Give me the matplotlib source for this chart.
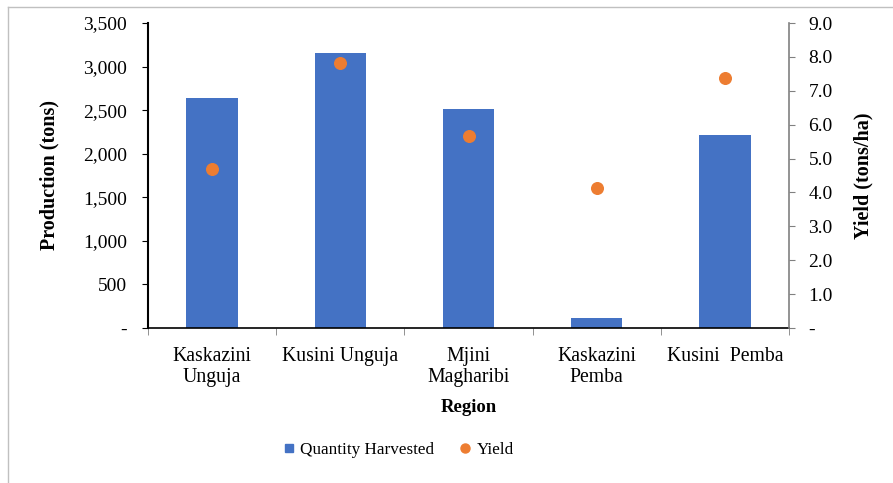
import numpy as np
import matplotlib
matplotlib.use("Agg")
import matplotlib.pyplot as plt
from matplotlib.lines import Line2D
from matplotlib.ticker import FuncFormatter

plt.rcParams['font.family'] = ['Liberation Serif', 'DejaVu Serif']

# data
regions = ['Kaskazini\nUnguja', 'Kusini Unguja', 'Mjini\nMagharibi', 'Kaskazini\nPemba', 'Kusini  Pemba']
quantity = [2640, 3157, 2514, 118, 2216]
yields = [4.68, 7.82, 5.66, 4.12, 7.38]

blue = '#4472C4'
orange = '#ED7D31'

fig = plt.figure(figsize=(8.93, 4.83), dpi=100)
ax = fig.add_axes([148/893, 1 - 328/483, 641/893, 305/483])
ax2 = ax.twinx()

x = np.arange(len(regions))
ax.bar(x, quantity, width=0.4, color=blue, label='Quantity Harvested', zorder=2)
ax2.scatter(x, yields, s=70, color=orange, zorder=3, label='Yield')

ax.set_xlim(-0.5, len(regions) - 0.5)
ax.set_ylim(0, 3500)
ax.set_yticks(np.arange(0, 3501, 500))
ax.yaxis.set_major_formatter(FuncFormatter(lambda v, p: '-' if v == 0 else f'{v:,.0f}'))
ax2.set_ylim(0, 9)
ax2.set_yticks(np.arange(0, 9.01, 1))
ax2.yaxis.set_major_formatter(FuncFormatter(lambda v, p: '-' if v == 0 else f'{v:.1f}'))

# category labels centred, separator ticks on the boundaries
ax.set_xticks(x)
ax.set_xticklabels(regions, fontsize=14.2, linespacing=1.1)
ax.tick_params(axis='x', which='major', length=0, pad=14)
ax.set_xticks(np.arange(-0.5, len(regions)), minor=True)
ax.tick_params(axis='x', which='minor', length=5, color='#808080')

ax.tick_params(axis='y', labelsize=14, length=4, direction='out', pad=11)
ax2.tick_params(axis='y', labelsize=14, length=4, direction='out', color='#808080', pad=10)

for s in ['top', 'right']:
    ax.spines[s].set_visible(False)
ax2.spines['top'].set_visible(False)
ax2.spines['left'].set_visible(False)
ax2.spines['bottom'].set_visible(False)
ax2.spines['right'].set_color('#808080')
ax2.spines['right'].set_linewidth(1.2)
ax.spines['left'].set_linewidth(1.5)
ax.spines['bottom'].set_linewidth(1.2)

ax.set_ylabel('Production (tons)', fontsize=14.5, fontweight='bold', labelpad=17)
ax2.set_ylabel('Yield (tons/ha)', fontsize=14.5, fontweight='bold', labelpad=15)
ax.set_xlabel('Region', fontsize=13.5, fontweight='bold', labelpad=9)

handles = [
    Line2D([], [], marker='s', linestyle='none', color=blue, markersize=6),
    Line2D([], [], marker='o', linestyle='none', color=orange, markersize=6.5),
]
fig.legend(handles, ['Quantity Harvested', 'Yield'], loc='center left', bbox_to_anchor=(268/893, 1 - 450/483),
           ncol=2, frameon=False, fontsize=12.3, columnspacing=1.5, handlelength=0.6, handletextpad=0.4)

# partial frame of the cropped original
fig.add_artist(Line2D([8/893, 1], [1 - 7/483, 1 - 7/483], color='#C0C0C0', lw=1))
fig.add_artist(Line2D([8/893, 8/893], [0, 1 - 7/483], color='#C0C0C0', lw=1))

fig.savefig('out.png', dpi=100)
